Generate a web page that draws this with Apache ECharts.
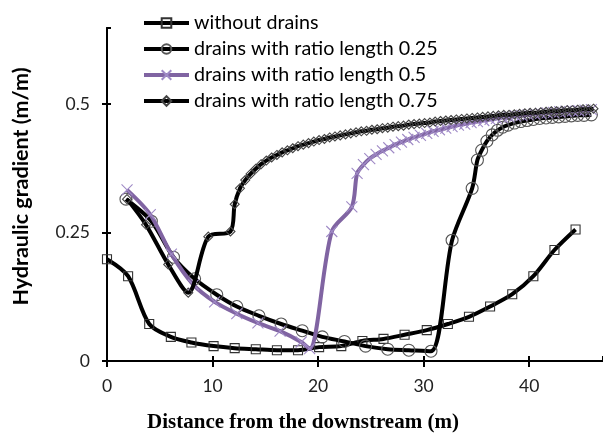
<!DOCTYPE html>
<html>
<head>
<meta charset="utf-8">
<script src="https://cdn.jsdelivr.net/npm/echarts@6/dist/echarts.min.js"></script>
<style>html,body{margin:0;padding:0;background:#fff}#c{width:603px;height:436px}</style>
</head>
<body>
<div id="c"></div>
<script>
// ---- data ----
const seriesNames = ["without drains", "drains with ratio length 0.25", "drains with ratio length 0.5", "drains with ratio length 0.75"];

const xA = [0, 2.0, 4.0, 6.05, 8.0, 10.1, 12.1, 14.1, 16.1, 18.1, 20.1, 22.2, 24.2, 26.2, 28.2, 30.3, 32.3, 34.3, 36.3, 38.4, 40.4, 42.4, 44.4];
const yA = [0.198, 0.165, 0.072, 0.047, 0.036, 0.029, 0.025, 0.023, 0.021, 0.021, 0.027, 0.029, 0.039, 0.043, 0.051, 0.060, 0.072, 0.086, 0.106, 0.130, 0.165, 0.216, 0.256];

const xB = [1.8, 4.2, 6.3, 8.3, 10.4, 12.3, 14.4, 16.5, 18.5, 20.4, 22.5, 24.5, 26.6, 28.6, 30.7, 32.7, 34.6, 35.1, 35.5, 36.0, 36.5, 37.0, 37.5, 38.0, 38.6, 39.2, 39.8, 40.4, 41.0, 41.6, 42.2, 42.8, 43.4, 44.0, 44.6, 45.2, 45.9];
const yB = [0.315, 0.272, 0.202, 0.160, 0.129, 0.106, 0.088, 0.072, 0.059, 0.047, 0.038, 0.029, 0.023, 0.021, 0.019, 0.235, 0.336, 0.391, 0.410, 0.428, 0.440, 0.449, 0.455, 0.459, 0.463, 0.466, 0.468, 0.470, 0.472, 0.473, 0.474, 0.475, 0.476, 0.477, 0.478, 0.478, 0.479];

const xC = [1.9, 4.1, 6.1, 8.2, 10.2, 12.3, 14.3, 16.4, 18.4, 19.2, 21.3, 23.2, 23.7, 24.3, 24.9, 25.5, 26.1, 26.7, 27.3, 27.9, 28.5, 29.1, 29.7, 30.3, 30.9, 31.5, 32.1, 32.7, 33.3, 33.9, 34.5, 35.1, 35.7, 36.3, 36.9, 37.5, 38.1, 38.7, 39.3, 39.9, 40.5, 41.1, 41.7, 42.3, 42.9, 43.5, 44.1, 44.7, 45.3, 45.9];
const yC = [0.333, 0.285, 0.208, 0.148, 0.115, 0.092, 0.074, 0.058, 0.037, 0.024, 0.252, 0.300, 0.365, 0.382, 0.394, 0.402, 0.409, 0.415, 0.421, 0.426, 0.431, 0.435, 0.439, 0.443, 0.447, 0.450, 0.453, 0.456, 0.459, 0.461, 0.464, 0.466, 0.468, 0.470, 0.472, 0.474, 0.475, 0.477, 0.478, 0.479, 0.481, 0.482, 0.483, 0.484, 0.485, 0.486, 0.487, 0.487, 0.488, 0.489];

const xD = [1.9, 3.7, 5.8, 7.7, 9.6, 11.7, 12.1, 12.6, 13.1, 13.6, 14.1, 14.6, 15.1, 15.6, 16.1, 16.6, 17.1, 17.6, 18.1, 18.6, 19.1, 19.6, 20.1, 20.6, 21.1, 21.6, 22.1, 22.6, 23.1, 23.6, 24.1, 24.6, 25.1, 25.6, 26.1, 26.6, 27.1, 27.6, 28.1, 28.6, 29.1, 29.6, 30.1, 30.6, 31.1, 31.6, 32.1, 32.6, 33.1, 33.6, 34.1, 34.6, 35.1, 35.6, 36.1, 36.6, 37.1, 37.6, 38.1, 38.6, 39.1, 39.6, 40.1, 40.6, 41.1, 41.6, 42.1, 42.6, 43.1, 43.6, 44.1, 44.6, 45.1, 45.6, 46.1];
const yD = [0.315, 0.265, 0.188, 0.133, 0.242, 0.252, 0.305, 0.336, 0.352, 0.364, 0.374, 0.383, 0.390, 0.396, 0.401, 0.406, 0.410, 0.414, 0.418, 0.421, 0.424, 0.427, 0.430, 0.432, 0.435, 0.437, 0.439, 0.441, 0.443, 0.445, 0.447, 0.448, 0.450, 0.451, 0.453, 0.454, 0.456, 0.457, 0.458, 0.460, 0.461, 0.462, 0.463, 0.464, 0.466, 0.467, 0.468, 0.469, 0.470, 0.471, 0.472, 0.473, 0.474, 0.475, 0.476, 0.477, 0.478, 0.479, 0.479, 0.480, 0.481, 0.482, 0.483, 0.483, 0.484, 0.485, 0.486, 0.486, 0.487, 0.488, 0.488, 0.489, 0.490, 0.490, 0.491];

// ---- chart ----
const pair = (xs, ys) => xs.map((x, i) => [x, ys[i]]);
const FONT = 'Lato';
const chart = echarts.init(document.getElementById('c'), null, {renderer: 'canvas'});

function mkSeries(name, data, symbol, size, lineColor, markerColor, z) {
  return {
    name, type: 'line', data, symbol, symbolSize: size,
    smooth: 0.3, xAxisIndex: 0, yAxisIndex: 0, z,
    lineStyle: {color: lineColor, width: 4},
    itemStyle: {color: 'rgba(255,255,255,0)', borderColor: markerColor, borderWidth: 1.1},
    emphasis: {disabled: true}, animation: false
  };
}

const blackLine = () => ({show: true, lineStyle: {color: '#000', width: 2}});
const tick = (inside, length) => ({show: true, inside, length, lineStyle: {color: '#000', width: 2}});

chart.setOption({
  animation: false,
  backgroundColor: '#fff',
  grid: {left: 107, right: 0, top: 28, bottom: 75, outerBoundsContain: 'axisLabel'},
  legend: {
    orient: 'vertical', left: 142, top: 13, padding: 0, itemWidth: 45, itemHeight: 12, itemGap: 6,
    lineStyle: {width: 4},
    textStyle: {fontFamily: FONT, fontSize: 19.7, color: '#000'},
    data: seriesNames
  },
  xAxis: [
    {
      type: 'value', min: 0, max: 47, interval: 10, splitLine: {show: false},
      name: 'Distance from the downstream (m)', nameLocation: 'middle', nameGap: 51,
      nameTextStyle: {fontFamily: 'Liberation Serif', fontWeight: 'bold', fontSize: 21, color: '#000', padding: [0, 104, 0, 0]},
      axisLine: blackLine(),
      axisTick: tick(false, 6),
      axisLabel: {show: true, fontFamily: FONT, fontSize: 17.5, color: '#222', margin: 16, showMaxLabel: false}
    },
    {
      type: 'value', position: 'bottom', offset: 0, min: 0, max: 47, interval: 10, splitLine: {show: false},
      axisLine: blackLine(),
      axisTick: tick(true, 5),
      axisLabel: {show: false}
    }
  ],
  yAxis: [
    {
      type: 'value', min: 0, max: 0.648, interval: 0.25, splitLine: {show: false},
      name: 'Hydraulic gradient (m/m)', nameLocation: 'middle', nameGap: 75, nameRotate: 90,
      nameTextStyle: {fontFamily: FONT, fontWeight: 'bold', fontSize: 21.5, color: '#000', padding: [0, 0, 0, 16]},
      axisLine: blackLine(),
      axisTick: tick(false, 5),
      axisLabel: {show: true, fontFamily: FONT, fontSize: 17.5, color: '#222', margin: 17, showMaxLabel: false}
    },
    {
      type: 'value', position: 'left', offset: 0, min: 0, max: 0.648, interval: 0.25, splitLine: {show: false},
      axisLine: blackLine(),
      axisTick: tick(true, 4),
      axisLabel: {show: false}
    }
  ],
  series: [
    mkSeries(seriesNames[0], pair(xA, yA), 'rect', 9, '#000', '#333', 2),
    mkSeries(seriesNames[1], pair(xB, yB), 'circle', 12, '#000', '#555', 3),
    mkSeries(seriesNames[2], pair(xC, yC), 'path://M0,0L10,10M10,0L0,10', 11, '#8064A2', '#9f8ac6', 4),
    mkSeries(seriesNames[3], pair(xD, yD), 'diamond', 9, '#000', '#444', 5)
  ]
});
</script>
</body>
</html>
